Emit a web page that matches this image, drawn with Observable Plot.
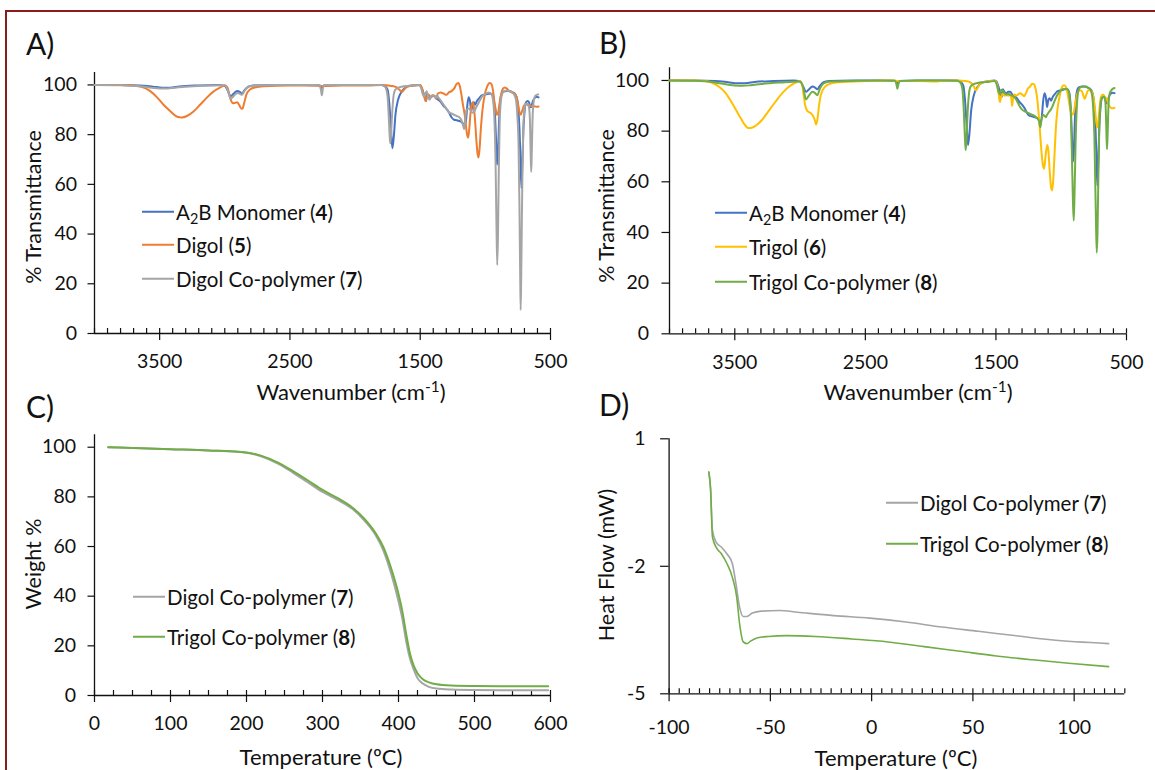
<!DOCTYPE html>
<html><head><meta charset="utf-8">
<script src="https://cdn.jsdelivr.net/npm/d3@7"></script>
<script src="https://cdn.jsdelivr.net/npm/@observablehq/plot@0.6"></script>
<style>
body{margin:0;background:#fff;}
#fig{position:relative;width:1155px;height:770px;overflow:hidden;font-family:Lato,"Open Sans",sans-serif;color:#111;background:#fff;}
#border{position:absolute;left:5px;top:10px;width:1200px;height:800px;border-top:2px solid #8c1c1c;border-left:2px solid #8c1c1c;}
.panel{position:absolute;}
.lbl{position:absolute;font-size:30px;line-height:1;}
.title{position:absolute;font-size:22px;line-height:1;white-space:nowrap;transform:translate(-50%,-50%);}
.ytitle{position:absolute;font-size:21.5px;line-height:1;white-space:nowrap;transform:translate(-50%,-50%) rotate(-90deg);}
.leg{position:absolute;font-size:20.5px;line-height:1;white-space:nowrap;display:flex;align-items:center;transform:translateY(-50%);}
.leg .sw{display:inline-block;width:32px;height:2px;margin-right:2px;}
sub{font-size:0.7em;vertical-align:-0.3em;line-height:0;}
sup{font-size:0.7em;vertical-align:0.55em;line-height:0;}
</style></head>
<body>
<div id="fig"><div id="border"></div></div>
<script>
// ---------------- DATA ----------------
// FTIR: [wavenumber cm-1, % transmittance]
const irMonomer4 = [[4000,100],[3800,100],[3650,99.8],[3550,99.3],[3480,98.9],[3420,98.9],[3350,99.4],[3200,99.8],[3050,100],[3000,99.6],[2975,97.5],[2955,95.5],[2935,96.3],[2905,97.6],[2885,97.2],[2868,96.5],[2850,97.8],[2820,99.3],[2780,99.8],[2600,100],[2400,100],[2270,99.8],[2255,98.8],[2240,99.8],[2100,100],[1900,100],[1800,100],[1770,99.5],[1750,98],[1738,93],[1725,83],[1714,74.5],[1703,79],[1690,88],[1670,94],[1640,97.5],[1600,99.3],[1550,99.8],[1510,100],[1495,99.5],[1480,97.5],[1465,95],[1455,93.5],[1447,96.5],[1435,95.5],[1420,95],[1405,95.5],[1390,95.5],[1375,94.5],[1360,94],[1340,93],[1320,91.5],[1300,90.5],[1280,89],[1260,87],[1240,86],[1220,85.8],[1200,85.5],[1180,85],[1168,84.2],[1158,83.5],[1148,86],[1138,92],[1128,95],[1118,93.5],[1108,89.5],[1098,92.5],[1088,93],[1078,92],[1065,93.5],[1050,94.5],[1035,95.5],[1015,96],[995,96.2],[975,96.5],[955,96.5],[940,95.5],[928,90],[918,78],[910,68],[903,72],[895,85],[885,94],[870,97],[850,97.5],[830,97.6],[810,97.5],[790,97],[775,96.5],[760,95],[748,91],[738,82],[730,70],[723,58.5],[716,68],[708,82],[698,90],[688,93],[675,93.5],[665,93],[657,91.5],[650,91],[643,92],[635,93.5],[620,94.8],[605,95.2],[592,95]];
const irDigol5 = [[4000,100],[3800,100],[3700,99.8],[3640,99.2],[3580,97.8],[3520,95],[3470,92],[3420,89.5],[3370,87.3],[3330,86.9],[3290,87.5],[3240,89.3],[3190,92],[3140,94.8],[3090,97.2],[3040,98.8],[3000,99.8],[2980,99],[2965,96],[2950,93.5],[2935,92.6],[2920,92.8],[2905,93],[2890,92],[2878,90.8],[2865,90.4],[2852,92.5],[2835,96],[2810,98],[2770,99],[2700,99.5],[2500,99.8],[2300,99.8],[2250,99.6],[2100,99.8],[1900,99.8],[1800,100],[1720,99.6],[1680,99],[1655,97.8],[1640,97.2],[1625,98],[1600,99.3],[1540,99.8],[1500,100],[1485,98.5],[1470,95.5],[1458,93.5],[1448,95.5],[1435,96],[1420,95.2],[1405,95.8],[1390,95.5],[1378,94.5],[1365,96.5],[1345,97],[1320,96.5],[1300,96],[1280,97],[1260,97.5],[1240,98.5],[1222,100.3],[1208,100.8],[1196,99.5],[1185,96.5],[1172,92],[1160,88.5],[1150,84],[1140,80],[1132,78.8],[1124,82],[1115,88],[1105,92],[1096,93],[1088,91],[1078,85],[1068,77],[1060,72.5],[1053,70.8],[1045,74],[1035,82],[1022,90],[1005,96],[985,99.5],[968,100.8],[955,100.5],[942,98],[930,93],[920,90],[912,88],[903,88.5],[893,92],[880,96],[865,98.5],[850,99],[835,98.5],[815,97.5],[795,97],[775,96.5],[760,95],[748,92],[738,89],[728,88],[718,89.5],[705,91.5],[690,92.2],[675,92],[660,91.8],[645,91.5],[630,91.5],[610,91.2],[592,91.3]];
const irDigolCo7 = [[4000,100],[3800,99.9],[3650,99.5],[3560,98.9],[3500,98.6],[3440,98.6],[3380,98.9],[3300,99.3],[3150,99.7],[3000,99.9],[2975,97.5],[2955,94.5],[2935,95.3],[2905,96.8],[2885,96.5],[2868,96],[2850,97.5],[2820,99.2],[2780,99.8],[2600,100],[2400,100],[2275,100],[2262,98],[2255,95.8],[2247,98.5],[2235,100],[2100,100],[1900,100],[1800,100],[1770,99.3],[1752,96],[1742,88],[1735,80],[1730,76.5],[1724,80],[1716,88],[1706,95],[1692,98],[1670,98.8],[1640,99.3],[1600,99.6],[1550,99.8],[1510,100],[1495,99],[1482,96.5],[1470,95.2],[1460,96.5],[1450,97.5],[1440,95.5],[1428,94],[1415,95.5],[1400,95.8],[1385,95],[1370,95.5],[1355,94.5],[1340,93.5],[1320,92],[1300,90.5],[1280,89],[1260,88.5],[1240,88],[1220,87.5],[1200,87],[1185,86],[1172,84],[1163,82.2],[1155,86],[1145,90],[1130,90.5],[1115,90],[1100,88.8],[1088,89],[1075,90.5],[1060,92],[1045,93.5],[1030,95],[1015,96],[995,96.5],[975,97],[955,96.5],[942,94],[932,88],[922,70],[915,45],[909,27.5],[903,40],[897,65],[890,85],[880,94],[870,96.5],[855,97.5],[835,97.8],[815,97.5],[795,97],[778,96],[765,94],[755,88],[745,75],[738,50],[733,25],[729,9.5],[725,22],[720,45],[714,70],[707,85],[698,91],[688,92.5],[675,92.3],[665,91],[658,86],[652,72],[648,65],[644,72],[638,86],[630,93],[618,95.5],[605,96],[595,96.2]];
const irTrigol6 = [[4000,100],[3800,100],[3720,99.8],[3670,99],[3620,97.5],[3570,95],[3520,91],[3470,86.5],[3430,83],[3395,81.2],[3370,81.3],[3330,82.5],[3290,84.5],[3240,88],[3190,91.5],[3140,94.8],[3090,97.3],[3040,99],[3000,99.8],[2985,98.5],[2972,94],[2960,90],[2945,88],[2930,87.5],[2915,87],[2900,86],[2888,84.5],[2877,82.6],[2866,85],[2855,90],[2840,94.5],[2810,97.5],[2770,98.7],[2700,99.3],[2500,99.8],[2300,100],[2250,99.8],[2100,99.8],[1950,99.6],[1900,99.9],[1800,100],[1720,99.7],[1690,99],[1668,97.5],[1652,96],[1638,97.3],[1615,99],[1580,99.5],[1540,99.8],[1505,99.8],[1492,98.5],[1480,95],[1470,91.5],[1460,93.5],[1450,94.8],[1435,94],[1420,94.2],[1405,94],[1392,94.5],[1382,93],[1376,90],[1370,92.5],[1360,94.5],[1345,94],[1330,94.5],[1315,95],[1300,94.5],[1285,93.8],[1270,95],[1255,96.8],[1240,97.5],[1222,98.7],[1208,98.5],[1195,96.5],[1182,92],[1170,85],[1160,78],[1148,70],[1140,66.5],[1132,65.2],[1124,68],[1116,72],[1106,74.5],[1098,72],[1088,64],[1078,58],[1070,56.6],[1062,60],[1052,70],[1040,82],[1028,89],[1015,93],[1000,96.5],[985,98],[972,98],[958,96.5],[945,93],[932,89],[922,87],[912,86.5],[902,88],[890,91.5],[875,95],[860,96],[845,96],[830,94],[820,92.8],[810,94],[795,96],[780,96.2],[765,95.5],[752,93],[740,88],[730,83],[723,81.5],[715,84],[705,90],[695,93.5],[680,94.5],[665,93.5],[650,92.5],[638,90.5],[625,89.5],[610,89],[592,89.2]];
const irTrigolCo8 = [[4000,100],[3800,99.9],[3650,99.2],[3560,98.4],[3500,98],[3440,97.9],[3380,98.1],[3300,98.6],[3150,99.2],[3000,99.6],[2975,97],[2955,92.5],[2935,93.8],[2905,95.5],[2885,95],[2868,94.2],[2850,96.5],[2820,98.8],[2780,99.5],[2600,99.8],[2400,100],[2275,100],[2262,98.5],[2255,96.7],[2247,98.5],[2235,99.8],[2100,100],[1900,100],[1800,99.9],[1775,99.3],[1758,97],[1746,88],[1738,78],[1732,72.5],[1726,76],[1718,86],[1708,94],[1695,97.5],[1675,98.5],[1640,99],[1600,99.3],[1550,99.5],[1510,99.8],[1495,98.5],[1480,95.5],[1470,94.5],[1460,96.3],[1448,96],[1435,95],[1420,94.5],[1405,94.8],[1390,94.2],[1375,94],[1360,93.5],[1345,92.5],[1330,91],[1315,89.5],[1300,88.5],[1285,88],[1265,87.5],[1245,87],[1225,86.5],[1205,86],[1185,85],[1170,84],[1160,81.5],[1152,84],[1140,86.5],[1128,86],[1118,85.5],[1108,86.5],[1095,87.5],[1080,88.5],[1065,90],[1050,92],[1035,93.8],[1020,95],[1000,96.2],[980,96.6],[960,96.7],[945,96],[935,93],[925,85],[917,68],[910,52],[904,44.7],[898,55],[890,75],[880,90],[868,96],[855,97.2],[835,97.6],[815,97.6],[795,97.2],[778,96.5],[765,94.5],[755,89],[746,78],[740,62],[734,45],[728,32],[722,40],[716,60],[709,80],[700,90],[690,93],[680,93.5],[670,93.6],[661,91],[655,82],[650,72.8],[645,78],[638,90],[628,95],[615,96.2],[603,96.8],[592,97]];
// TGA: [temperature ºC, weight %]
const tgaDigolCo7 = [[18,100],[50,99.7],[100,99.2],[150,98.7],[200,97.8],[220,96.2],[240,93.6],[260,90],[280,86],[300,82],[320,78.8],[340,75],[355,70.5],[370,64.5],[380,58.5],[390,49.5],[400,38],[405,31],[410,22],[415,15],[420,10.5],[425,7],[432,4.8],[440,3.5],[450,2.8],[470,2.4],[500,2.2],[550,2.1],[597,2.1]];
const tgaTrigolCo8 = [[18,100],[50,99.7],[100,99.2],[150,98.7],[200,97.9],[220,96.5],[240,94],[260,90.6],[280,86.8],[300,82.8],[320,79.5],[340,75.5],[355,71.2],[370,65.3],[380,59.8],[390,51.5],[400,40.9],[405,34],[410,25],[415,17],[420,12],[425,9],[432,6.5],[440,5.3],[450,4.5],[470,4],[500,3.8],[550,3.7],[597,3.7]];
// DSC: [temperature ºC, heat flow mW]
const dscDigolCo7 = [[-80.4,0.22],[-79.5,-0.2],[-78.6,-1.15],[-76.8,-1.43],[-74.1,-1.55],[-71.4,-1.71],[-68.75,-1.94],[-67,-2.41],[-65.2,-2.96],[-63.4,-3.18],[-61.6,-3.18],[-58.9,-3.1],[-54.5,-3.055],[-45.5,-3.04],[-36.6,-3.08],[-18.75,-3.16],[-0.9,-3.22],[17,-3.31],[34.8,-3.43],[52.7,-3.53],[70.5,-3.63],[88.4,-3.73],[117,-3.82]];
const dscTrigolCo8 = [[-80.4,0.22],[-79.5,-0.2],[-78.6,-1.31],[-76.8,-1.55],[-74.1,-1.71],[-71.4,-1.94],[-68.75,-2.26],[-66.6,-2.73],[-65.2,-3.35],[-63.4,-3.78],[-61.6,-3.82],[-59.8,-3.76],[-56.25,-3.68],[-50.9,-3.65],[-42,-3.63],[-27.7,-3.65],[-9.8,-3.71],[8,-3.78],[25.9,-3.89],[43.75,-4.0],[61.6,-4.11],[79.5,-4.2],[97.3,-4.28],[117,-4.36]];

// tick values
const irMajorTicks = [3500, 2500, 1500, 500];
const irMinorTicks = d3.range(4000, 499, -100);
const pctTicks = [0, 20, 40, 60, 80, 100];
const tgaMajorTicks = [0, 100, 200, 300, 400, 500, 600];
const tgaMinorTicks = d3.range(0, 601, 25);
const dscMajorTicks = [-100, -50, 0, 50, 100];
const dscMinorTicks = d3.range(-100, 126, 5);
const dscYTicks = [1, -2, -5];

const C = {blue:"#4472C4", orange:"#ED7D31", gray:"#A5A5A5", yellow:"#FFC000", green:"#70AD47"};

// ---------------- DRAW ----------------
const fig = document.getElementById("fig");

function panel(o) {
  const plotH = o.height - o.mT - o.mB;
  const svg = Plot.plot({
    width: o.width, height: o.height,
    marginLeft: o.mL, marginRight: o.mR, marginTop: o.mT, marginBottom: o.mB,
    x: {domain: o.xDomain},
    y: {domain: o.yDomain},
    style: {fontFamily: "Lato, 'Open Sans', sans-serif", fontSize: "19.5px", color: "#111", background: "transparent", overflow: "visible"},
    marks: [
      Plot.tickX(o.xMinor, {x: d => d, insetTop: plotH - 5, stroke: "#111", strokeWidth: 1.2}),
      Plot.axisX(o.xMajor, {tickSize: o.xTickSize, tickPadding: o.xPad, fontSize: 19.5, label: null, strokeWidth: 1.2, tickFormat: d => String(d)}),
      Plot.axisY(o.yTicks, {tickSize: o.yTickSize, tickPadding: o.yPad, fontSize: 19.5, label: null, strokeWidth: 1.2, tickFormat: d => String(d)}),
      Plot.ruleX([o.xDomain[0]], {stroke: "#111", strokeWidth: 1.3}),
      Plot.ruleY([o.yDomain[0]], {stroke: "#111", strokeWidth: 1.3}),
      ...o.series.map(s => Plot.line(s.data, {x: d => d[0], y: d => d[1], stroke: s.color, strokeWidth: s.w || 2, curve: "monotone-x"}))
    ]
  });
  svg.classList.add("panel");
  svg.style.left = o.left + "px";
  svg.style.top = o.top + "px";
  fig.appendChild(svg);
}

panel({left: 0, top: 60, width: 580, height: 320, mL: 94, mR: 30, mT: 12, mB: 47,
  xDomain: [4000, 500], yDomain: [0, 105], xMajor: irMajorTicks, xMinor: irMinorTicks, yTicks: pctTicks,
  xTickSize: 7, xPad: 14, yTickSize: 6.5, yPad: 11,
  series: [{data: irMonomer4, color: C.blue}, {data: irDigol5, color: C.orange}, {data: irDigolCo7, color: C.gray}]});

panel({left: 580, top: 55, width: 575, height: 325, mL: 89, mR: 29, mT: 12.3, mB: 46.7,
  xDomain: [4000, 500], yDomain: [0, 105], xMajor: irMajorTicks, xMinor: irMinorTicks, yTicks: pctTicks,
  xTickSize: 7, xPad: 14, yTickSize: 7.5, yPad: 13,
  series: [{data: irMonomer4, color: C.blue}, {data: irTrigol6, color: C.yellow}, {data: irTrigolCo8, color: C.green}]});

panel({left: 0, top: 420, width: 580, height: 330, mL: 94, mR: 30, mT: 14.3, mB: 55,
  xDomain: [0, 600], yDomain: [0, 105], xMajor: tgaMajorTicks, xMinor: tgaMinorTicks, yTicks: pctTicks,
  xTickSize: 7, xPad: 14, yTickSize: 6.5, yPad: 12,
  series: [{data: tgaDigolCo7, color: C.gray}, {data: tgaTrigolCo8, color: C.green}]});

panel({left: 580, top: 420, width: 575, height: 330, mL: 88.6, mR: 30.7, mT: 18.3, mB: 56.7,
  xDomain: [-100, 125], yDomain: [-5, 1], xMajor: dscMajorTicks, xMinor: dscMinorTicks, yTicks: dscYTicks,
  xTickSize: 8, xPad: 18, yTickSize: 8.5, yPad: 15,
  series: [{data: dscDigolCo7, color: C.gray, w: 1.6}, {data: dscTrigolCo8, color: C.green, w: 1.6}]});

// ---------------- TEXT ----------------
function add(html, cls, x, y) {
  const d = document.createElement("div");
  d.className = cls; d.innerHTML = html;
  d.style.left = x + "px"; d.style.top = y + "px";
  fig.appendChild(d);
}
add("A)", "lbl", 26, 28);
add("B)", "lbl", 599, 27);
add("C)", "lbl", 26, 391);
add("D)", "lbl", 599, 389);

add("% Transmittance", "ytitle", 34, 207);
add("% Transmittance", "ytitle", 607, 206);
add("Weight %", "ytitle", 34, 564);
add("Heat Flow (mW)", "ytitle", 607, 565);
add("Wavenumber (cm<sup>-1</sup>)", "title", 351, 392);
add("Wavenumber (cm<sup>-1</sup>)", "title", 918, 392);
add("Temperature (ºC)", "title", 321, 757);
add("Temperature (ºC)", "title", 896, 758);

function leg(color, html, x, y) {
  add(`<span class="sw" style="background:${color}"></span><span>${html}</span>`, "leg", x, y);
}
leg(C.blue, "A<sub>2</sub>B Monomer (<b>4</b>)", 142, 212);
leg(C.orange, "Digol (<b>5</b>)", 142, 245);
leg(C.gray, "Digol Co-polymer (<b>7</b>)", 142, 279);
leg(C.blue, "A<sub>2</sub>B Monomer (<b>4</b>)", 715, 213);
leg(C.yellow, "Trigol (<b>6</b>)", 715, 247);
leg(C.green, "Trigol Co-polymer (<b>8</b>)", 715, 282);
leg(C.gray, "Digol Co-polymer (<b>7</b>)", 133, 597);
leg(C.green, "Trigol Co-polymer (<b>8</b>)", 133, 637);
leg(C.gray, "Digol Co-polymer (<b>7</b>)", 886, 503);
leg(C.green, "Trigol Co-polymer (<b>8</b>)", 886, 544);
</script>
</body></html>
